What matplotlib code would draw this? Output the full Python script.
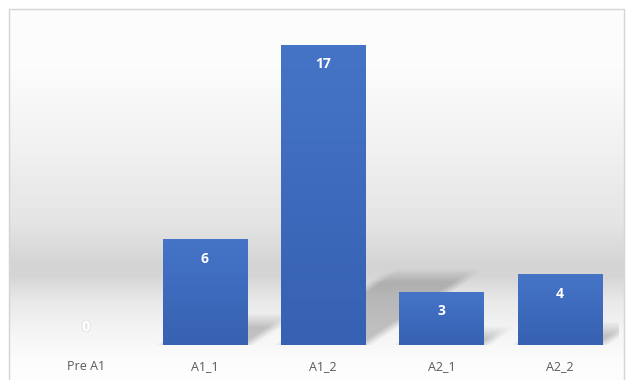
"""
Bar chart of level counts, Excel-style look:
gradient backdrop, gradient bars, soft perspective shadows.
"""

import numpy as np
import matplotlib
matplotlib.use('Agg')
import matplotlib.pyplot as plt
from matplotlib.patches import Rectangle
from matplotlib.colors import LinearSegmentedColormap
import matplotlib.patheffects as pe

# --- Data ---
categories = ['Pre A1', 'A1_1', 'A1_2', 'A2_1', 'A2_2']
counts = [0, 6, 17, 3, 4]

plt.rcParams['font.family'] = ['Open Sans', 'DejaVu Sans']

W, H = 627, 380
fig = plt.figure(figsize=(W / 100, H / 100), dpi=100)
fig.patch.set_facecolor('white')

# --- Background gradient (whole chart area) ---
bg = fig.add_axes([0, 0, 1, 1], zorder=0)
bg.set_xlim(0, W)
bg.set_ylim(H, 0)
bg.axis('off')
stops_y = [0, 60, 150, 220, 262, 274, 298, 330, 360, 380]
stops_v = [253, 252, 240, 228, 212, 214, 233, 245, 252, 254]
rows = np.interp(np.arange(H), stops_y, stops_v) / 255.0
grad = np.repeat(rows[:, None], 2, axis=1)
bg.imshow(np.dstack([grad, grad, grad]), extent=(9, 624, H, 9),
          aspect='auto', interpolation='bilinear')
bg.add_patch(Rectangle((9, 9), 615, H, fill=False, edgecolor='#d4d4d4', lw=1))

# --- Main axes ---
ax = fig.add_axes([27 / W, (H - 345) / H, (619 - 27) / W, (345 - 22) / H], zorder=1)
ax.set_facecolor('none')
x = np.arange(len(categories))
xlim = (-0.5, len(categories) - 0.5)
ylim = (0, 18.3)
bar_w = 0.71

# Soft perspective shadows, drawn as RGBA images in data space
ex, ey = 0.12, 0.8   # blur widths (data units)
for xi, v in zip(x, counts):
    if v == 0:
        continue
    dy = 0.23 * v
    dx = 0.052 * v
    x0, x1 = xi - bar_w / 2, xi + bar_w / 2
    gx = np.linspace(x0 - 0.2, x1 + dx + 0.25, 300)
    gy = np.linspace(0, dy + 1.2, 200)
    X, Y = np.meshgrid(gx, gy)
    t = np.clip(Y / dy, 0, 1.3)
    xl = x0 + dx * t
    xr = x1 + dx * t
    a = (np.clip((X - xl) / ex + 0.5, 0, 1) *
         np.clip((xr - X) / ex + 0.5, 0, 1) *
         np.clip((dy - Y) / ey + 0.5, 0, 1))
    a = a * 0.34
    img = np.zeros(X.shape + (4,))
    img[..., :3] = 0.35
    img[..., 3] = a
    ax.imshow(img, extent=(gx[0], gx[-1], gy[0], gy[-1]), origin='lower',
              aspect='auto', interpolation='bilinear', zorder=2)

# Bars with vertical gradient
bars = ax.bar(x, counts, width=bar_w, color='#4472C4', zorder=3)
cmap = LinearSegmentedColormap.from_list('blu', ['#3761B3', '#4574C6'])
for b in bars:
    if b.get_height() == 0:
        continue
    bx, by = b.get_x(), b.get_y()
    im = ax.imshow(np.linspace(0, 1, 64)[:, None], cmap=cmap, origin='lower',
                   extent=(bx, bx + b.get_width(), by, by + b.get_height()),
                   aspect='auto', zorder=4, interpolation='bilinear')
    im.set_clip_path(b)
ax.set_xlim(*xlim)
ax.set_ylim(*ylim)

# Value labels (inside end; zero sits just above the baseline)
for xi, v in zip(x, counts):
    off = 13 if v == 0 else -14
    t = ax.annotate(str(v), (xi, v), xytext=(0, off), textcoords='offset points',
                    ha='center', va='center', color='white', fontsize=10,
                    fontweight='bold', zorder=5)
    if v == 0:
        t.set_path_effects([pe.withStroke(linewidth=2, foreground='#e8e8e8')])

ax.set_xticks(x)
ax.set_xticklabels(categories, fontsize=9, color='#595959')
ax.tick_params(axis='x', length=0, pad=11)
ax.set_yticks([])
for sp in ax.spines.values():
    sp.set_visible(False)

plt.savefig('out.png', dpi=100)
plt.close()
